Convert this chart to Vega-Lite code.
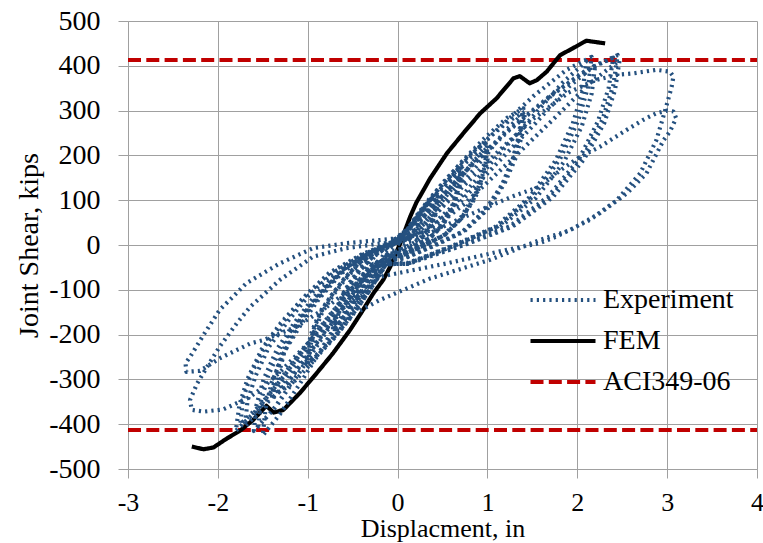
{
"$schema": "https://vega.github.io/schema/vega-lite/v6.json",
"width": 629, "height": 448,
"autosize": {"type": "none"},
"padding": {"left": 128, "top": 21, "right": 6, "bottom": 74},
"background": "white",
"config": {"view": {"stroke": null}, "font": "Liberation Serif"},
"data": {"values": [
{"s":"ACI349-06","g":1,"x":-3,"y":413},{"s":"ACI349-06","g":1,"x":4,"y":413},
{"s":"ACI349-06","g":2,"x":-3,"y":-413},{"s":"ACI349-06","g":2,"x":4,"y":-413},
{"s":"FEM","g":1,"x":-2.29,"y":-450},{"s":"FEM","g":1,"x":-2.16,"y":-456},{"s":"FEM","g":1,"x":-2.05,"y":-452},{"s":"FEM","g":1,"x":-1.9,"y":-432},{"s":"FEM","g":1,"x":-1.75,"y":-414},{"s":"FEM","g":1,"x":-1.61,"y":-391},{"s":"FEM","g":1,"x":-1.46,"y":-359},{"s":"FEM","g":1,"x":-1.38,"y":-374},{"s":"FEM","g":1,"x":-1.27,"y":-368},{"s":"FEM","g":1,"x":-1.09,"y":-331},{"s":"FEM","g":1,"x":-0.9,"y":-286},{"s":"FEM","g":1,"x":-0.72,"y":-242},{"s":"FEM","g":1,"x":-0.53,"y":-190},{"s":"FEM","g":1,"x":-0.4,"y":-150},{"s":"FEM","g":1,"x":-0.27,"y":-108},{"s":"FEM","g":1,"x":-0.16,"y":-78},{"s":"FEM","g":1,"x":-0.08,"y":-48},{"s":"FEM","g":1,"x":0.03,"y":4},{"s":"FEM","g":1,"x":0.14,"y":63},{"s":"FEM","g":1,"x":0.21,"y":95},{"s":"FEM","g":1,"x":0.29,"y":123},{"s":"FEM","g":1,"x":0.36,"y":148},{"s":"FEM","g":1,"x":0.55,"y":205},{"s":"FEM","g":1,"x":0.73,"y":249},{"s":"FEM","g":1,"x":0.92,"y":294},{"s":"FEM","g":1,"x":1.1,"y":327},{"s":"FEM","g":1,"x":1.29,"y":372},{"s":"FEM","g":1,"x":1.36,"y":377},{"s":"FEM","g":1,"x":1.47,"y":361},{"s":"FEM","g":1,"x":1.55,"y":368},{"s":"FEM","g":1,"x":1.66,"y":387},{"s":"FEM","g":1,"x":1.81,"y":424},{"s":"FEM","g":1,"x":1.95,"y":439},{"s":"FEM","g":1,"x":2.1,"y":456},{"s":"FEM","g":1,"x":2.31,"y":450},
{"s":"Experiment","g":1,"x":0,"y":0},{"s":"Experiment","g":1,"x":0.08,"y":22},{"s":"Experiment","g":1,"x":0.17,"y":47},{"s":"Experiment","g":1,"x":0.25,"y":65},{"s":"Experiment","g":1,"x":0.23,"y":45},{"s":"Experiment","g":1,"x":0.15,"y":15},{"s":"Experiment","g":1,"x":0.03,"y":-8},{"s":"Experiment","g":1,"x":-0.08,"y":-25},{"s":"Experiment","g":1,"x":-0.17,"y":-54},{"s":"Experiment","g":1,"x":-0.25,"y":-75},{"s":"Experiment","g":1,"x":-0.23,"y":-52},{"s":"Experiment","g":1,"x":-0.15,"y":-18},{"s":"Experiment","g":1,"x":-0.03,"y":2},
{"s":"Experiment","g":1,"x":0.05,"y":17},{"s":"Experiment","g":1,"x":0.14,"y":44},{"s":"Experiment","g":1,"x":0.23,"y":69},{"s":"Experiment","g":1,"x":0.32,"y":91},{"s":"Experiment","g":1,"x":0.39,"y":107},{"s":"Experiment","g":1,"x":0.45,"y":115},{"s":"Experiment","g":1,"x":0.44,"y":97},{"s":"Experiment","g":1,"x":0.42,"y":76},{"s":"Experiment","g":1,"x":0.38,"y":53},{"s":"Experiment","g":1,"x":0.32,"y":30},{"s":"Experiment","g":1,"x":0.23,"y":12},{"s":"Experiment","g":1,"x":0.14,"y":0},{"s":"Experiment","g":1,"x":0.02,"y":-12},{"s":"Experiment","g":1,"x":-0.07,"y":-13},{"s":"Experiment","g":1,"x":-0.14,"y":-33},{"s":"Experiment","g":1,"x":-0.23,"y":-61},{"s":"Experiment","g":1,"x":-0.32,"y":-91},{"s":"Experiment","g":1,"x":-0.39,"y":-116},{"s":"Experiment","g":1,"x":-0.45,"y":-130},{"s":"Experiment","g":1,"x":-0.44,"y":-112},{"s":"Experiment","g":1,"x":-0.42,"y":-91},{"s":"Experiment","g":1,"x":-0.38,"y":-69},{"s":"Experiment","g":1,"x":-0.32,"y":-46},{"s":"Experiment","g":1,"x":-0.25,"y":-23},{"s":"Experiment","g":1,"x":-0.16,"y":-8},{"s":"Experiment","g":1,"x":-0.05,"y":3},
{"s":"Experiment","g":1,"x":0.07,"y":8},{"s":"Experiment","g":1,"x":0.14,"y":23},{"s":"Experiment","g":1,"x":0.23,"y":47},{"s":"Experiment","g":1,"x":0.32,"y":71},{"s":"Experiment","g":1,"x":0.39,"y":92},{"s":"Experiment","g":1,"x":0.45,"y":105},{"s":"Experiment","g":1,"x":0.44,"y":88},{"s":"Experiment","g":1,"x":0.42,"y":69},{"s":"Experiment","g":1,"x":0.38,"y":48},{"s":"Experiment","g":1,"x":0.32,"y":27},{"s":"Experiment","g":1,"x":0.23,"y":11},{"s":"Experiment","g":1,"x":0.14,"y":0},{"s":"Experiment","g":1,"x":0.02,"y":-11},{"s":"Experiment","g":1,"x":-0.05,"y":-18},{"s":"Experiment","g":1,"x":-0.14,"y":-46},{"s":"Experiment","g":1,"x":-0.23,"y":-72},{"s":"Experiment","g":1,"x":-0.32,"y":-95},{"s":"Experiment","g":1,"x":-0.39,"y":-112},{"s":"Experiment","g":1,"x":-0.45,"y":-120},{"s":"Experiment","g":1,"x":-0.44,"y":-103},{"s":"Experiment","g":1,"x":-0.42,"y":-84},{"s":"Experiment","g":1,"x":-0.38,"y":-64},{"s":"Experiment","g":1,"x":-0.32,"y":-42},{"s":"Experiment","g":1,"x":-0.25,"y":-22},{"s":"Experiment","g":1,"x":-0.16,"y":-7},{"s":"Experiment","g":1,"x":-0.05,"y":2},
{"s":"Experiment","g":1,"x":0.08,"y":26},{"s":"Experiment","g":1,"x":0.21,"y":65},{"s":"Experiment","g":1,"x":0.35,"y":102},{"s":"Experiment","g":1,"x":0.49,"y":134},{"s":"Experiment","g":1,"x":0.61,"y":158},{"s":"Experiment","g":1,"x":0.7,"y":170},{"s":"Experiment","g":1,"x":0.69,"y":143},{"s":"Experiment","g":1,"x":0.65,"y":112},{"s":"Experiment","g":1,"x":0.59,"y":78},{"s":"Experiment","g":1,"x":0.49,"y":44},{"s":"Experiment","g":1,"x":0.36,"y":17},{"s":"Experiment","g":1,"x":0.21,"y":0},{"s":"Experiment","g":1,"x":0.04,"y":-17},{"s":"Experiment","g":1,"x":-0.11,"y":-20},{"s":"Experiment","g":1,"x":-0.21,"y":-49},{"s":"Experiment","g":1,"x":-0.35,"y":-92},{"s":"Experiment","g":1,"x":-0.49,"y":-137},{"s":"Experiment","g":1,"x":-0.61,"y":-174},{"s":"Experiment","g":1,"x":-0.7,"y":-195},{"s":"Experiment","g":1,"x":-0.69,"y":-168},{"s":"Experiment","g":1,"x":-0.65,"y":-140},{"s":"Experiment","g":1,"x":-0.59,"y":-109},{"s":"Experiment","g":1,"x":-0.5,"y":-82},{"s":"Experiment","g":1,"x":-0.41,"y":-55},{"s":"Experiment","g":1,"x":-0.29,"y":-29},{"s":"Experiment","g":1,"x":-0.15,"y":-10},{"s":"Experiment","g":1,"x":-0.04,"y":2},
{"s":"Experiment","g":1,"x":0.09,"y":25},{"s":"Experiment","g":1,"x":0.22,"y":63},{"s":"Experiment","g":1,"x":0.36,"y":99},{"s":"Experiment","g":1,"x":0.5,"y":130},{"s":"Experiment","g":1,"x":0.63,"y":153},{"s":"Experiment","g":1,"x":0.72,"y":165},{"s":"Experiment","g":1,"x":0.71,"y":139},{"s":"Experiment","g":1,"x":0.67,"y":109},{"s":"Experiment","g":1,"x":0.6,"y":76},{"s":"Experiment","g":1,"x":0.5,"y":43},{"s":"Experiment","g":1,"x":0.37,"y":17},{"s":"Experiment","g":1,"x":0.22,"y":0},{"s":"Experiment","g":1,"x":0.04,"y":-17},{"s":"Experiment","g":1,"x":-0.11,"y":-19},{"s":"Experiment","g":1,"x":-0.22,"y":-48},{"s":"Experiment","g":1,"x":-0.36,"y":-89},{"s":"Experiment","g":1,"x":-0.5,"y":-133},{"s":"Experiment","g":1,"x":-0.63,"y":-169},{"s":"Experiment","g":1,"x":-0.72,"y":-190},{"s":"Experiment","g":1,"x":-0.71,"y":-163},{"s":"Experiment","g":1,"x":-0.67,"y":-137},{"s":"Experiment","g":1,"x":-0.6,"y":-106},{"s":"Experiment","g":1,"x":-0.52,"y":-80},{"s":"Experiment","g":1,"x":-0.42,"y":-53},{"s":"Experiment","g":1,"x":-0.3,"y":-29},{"s":"Experiment","g":1,"x":-0.16,"y":-10},{"s":"Experiment","g":1,"x":-0.04,"y":2},
{"s":"Experiment","g":1,"x":0.11,"y":13},{"s":"Experiment","g":1,"x":0.21,"y":35},{"s":"Experiment","g":1,"x":0.35,"y":72},{"s":"Experiment","g":1,"x":0.49,"y":109},{"s":"Experiment","g":1,"x":0.61,"y":141},{"s":"Experiment","g":1,"x":0.7,"y":160},{"s":"Experiment","g":1,"x":0.69,"y":134},{"s":"Experiment","g":1,"x":0.65,"y":106},{"s":"Experiment","g":1,"x":0.59,"y":74},{"s":"Experiment","g":1,"x":0.49,"y":42},{"s":"Experiment","g":1,"x":0.36,"y":16},{"s":"Experiment","g":1,"x":0.21,"y":0},{"s":"Experiment","g":1,"x":0.04,"y":-16},{"s":"Experiment","g":1,"x":-0.08,"y":-28},{"s":"Experiment","g":1,"x":-0.21,"y":-70},{"s":"Experiment","g":1,"x":-0.35,"y":-111},{"s":"Experiment","g":1,"x":-0.49,"y":-146},{"s":"Experiment","g":1,"x":-0.61,"y":-172},{"s":"Experiment","g":1,"x":-0.7,"y":-185},{"s":"Experiment","g":1,"x":-0.69,"y":-159},{"s":"Experiment","g":1,"x":-0.65,"y":-133},{"s":"Experiment","g":1,"x":-0.59,"y":-104},{"s":"Experiment","g":1,"x":-0.5,"y":-78},{"s":"Experiment","g":1,"x":-0.41,"y":-52},{"s":"Experiment","g":1,"x":-0.29,"y":-28},{"s":"Experiment","g":1,"x":-0.15,"y":-9},{"s":"Experiment","g":1,"x":-0.04,"y":2},
{"s":"Experiment","g":1,"x":0.12,"y":35},{"s":"Experiment","g":1,"x":0.3,"y":87},{"s":"Experiment","g":1,"x":0.5,"y":138},{"s":"Experiment","g":1,"x":0.7,"y":182},{"s":"Experiment","g":1,"x":0.87,"y":214},{"s":"Experiment","g":1,"x":1.0,"y":230},{"s":"Experiment","g":1,"x":0.98,"y":193},{"s":"Experiment","g":1,"x":0.93,"y":152},{"s":"Experiment","g":1,"x":0.84,"y":106},{"s":"Experiment","g":1,"x":0.7,"y":60},{"s":"Experiment","g":1,"x":0.52,"y":23},{"s":"Experiment","g":1,"x":0.3,"y":0},{"s":"Experiment","g":1,"x":0.05,"y":-23},{"s":"Experiment","g":1,"x":-0.15,"y":-27},{"s":"Experiment","g":1,"x":-0.3,"y":-68},{"s":"Experiment","g":1,"x":-0.5,"y":-127},{"s":"Experiment","g":1,"x":-0.7,"y":-189},{"s":"Experiment","g":1,"x":-0.87,"y":-240},{"s":"Experiment","g":1,"x":-1.0,"y":-270},{"s":"Experiment","g":1,"x":-0.98,"y":-232},{"s":"Experiment","g":1,"x":-0.93,"y":-194},{"s":"Experiment","g":1,"x":-0.84,"y":-151},{"s":"Experiment","g":1,"x":-0.72,"y":-113},{"s":"Experiment","g":1,"x":-0.58,"y":-76},{"s":"Experiment","g":1,"x":-0.42,"y":-41},{"s":"Experiment","g":1,"x":-0.22,"y":-14},{"s":"Experiment","g":1,"x":-0.05,"y":3},
{"s":"Experiment","g":1,"x":0.15,"y":18},{"s":"Experiment","g":1,"x":0.31,"y":50},{"s":"Experiment","g":1,"x":0.51,"y":101},{"s":"Experiment","g":1,"x":0.71,"y":153},{"s":"Experiment","g":1,"x":0.89,"y":198},{"s":"Experiment","g":1,"x":1.02,"y":225},{"s":"Experiment","g":1,"x":1.0,"y":189},{"s":"Experiment","g":1,"x":0.95,"y":149},{"s":"Experiment","g":1,"x":0.86,"y":104},{"s":"Experiment","g":1,"x":0.71,"y":59},{"s":"Experiment","g":1,"x":0.53,"y":23},{"s":"Experiment","g":1,"x":0.31,"y":0},{"s":"Experiment","g":1,"x":0.05,"y":-23},{"s":"Experiment","g":1,"x":-0.12,"y":-40},{"s":"Experiment","g":1,"x":-0.31,"y":-101},{"s":"Experiment","g":1,"x":-0.51,"y":-159},{"s":"Experiment","g":1,"x":-0.71,"y":-209},{"s":"Experiment","g":1,"x":-0.89,"y":-246},{"s":"Experiment","g":1,"x":-1.02,"y":-265},{"s":"Experiment","g":1,"x":-1.0,"y":-228},{"s":"Experiment","g":1,"x":-0.95,"y":-191},{"s":"Experiment","g":1,"x":-0.86,"y":-148},{"s":"Experiment","g":1,"x":-0.73,"y":-111},{"s":"Experiment","g":1,"x":-0.59,"y":-74},{"s":"Experiment","g":1,"x":-0.43,"y":-40},{"s":"Experiment","g":1,"x":-0.22,"y":-13},{"s":"Experiment","g":1,"x":-0.05,"y":3},
{"s":"Experiment","g":1,"x":0.15,"y":17},{"s":"Experiment","g":1,"x":0.3,"y":48},{"s":"Experiment","g":1,"x":0.5,"y":98},{"s":"Experiment","g":1,"x":0.7,"y":148},{"s":"Experiment","g":1,"x":0.87,"y":192},{"s":"Experiment","g":1,"x":1.0,"y":218},{"s":"Experiment","g":1,"x":0.98,"y":183},{"s":"Experiment","g":1,"x":0.93,"y":144},{"s":"Experiment","g":1,"x":0.84,"y":100},{"s":"Experiment","g":1,"x":0.7,"y":57},{"s":"Experiment","g":1,"x":0.52,"y":22},{"s":"Experiment","g":1,"x":0.3,"y":0},{"s":"Experiment","g":1,"x":0.05,"y":-22},{"s":"Experiment","g":1,"x":-0.12,"y":-39},{"s":"Experiment","g":1,"x":-0.3,"y":-98},{"s":"Experiment","g":1,"x":-0.5,"y":-155},{"s":"Experiment","g":1,"x":-0.7,"y":-204},{"s":"Experiment","g":1,"x":-0.87,"y":-240},{"s":"Experiment","g":1,"x":-1.0,"y":-258},{"s":"Experiment","g":1,"x":-0.98,"y":-222},{"s":"Experiment","g":1,"x":-0.93,"y":-186},{"s":"Experiment","g":1,"x":-0.84,"y":-144},{"s":"Experiment","g":1,"x":-0.72,"y":-108},{"s":"Experiment","g":1,"x":-0.58,"y":-72},{"s":"Experiment","g":1,"x":-0.42,"y":-39},{"s":"Experiment","g":1,"x":-0.22,"y":-13},{"s":"Experiment","g":1,"x":-0.05,"y":3},
{"s":"Experiment","g":1,"x":0.17,"y":46},{"s":"Experiment","g":1,"x":0.42,"y":116},{"s":"Experiment","g":1,"x":0.7,"y":183},{"s":"Experiment","g":1,"x":0.98,"y":241},{"s":"Experiment","g":1,"x":1.22,"y":284},{"s":"Experiment","g":1,"x":1.4,"y":305},{"s":"Experiment","g":1,"x":1.37,"y":256},{"s":"Experiment","g":1,"x":1.3,"y":201},{"s":"Experiment","g":1,"x":1.18,"y":140},{"s":"Experiment","g":1,"x":0.98,"y":79},{"s":"Experiment","g":1,"x":0.73,"y":31},{"s":"Experiment","g":1,"x":0.42,"y":0},{"s":"Experiment","g":1,"x":0.07,"y":-31},{"s":"Experiment","g":1,"x":-0.21,"y":-35},{"s":"Experiment","g":1,"x":-0.42,"y":-86},{"s":"Experiment","g":1,"x":-0.7,"y":-162},{"s":"Experiment","g":1,"x":-0.98,"y":-242},{"s":"Experiment","g":1,"x":-1.22,"y":-307},{"s":"Experiment","g":1,"x":-1.4,"y":-345},{"s":"Experiment","g":1,"x":-1.37,"y":-297},{"s":"Experiment","g":1,"x":-1.3,"y":-248},{"s":"Experiment","g":1,"x":-1.18,"y":-193},{"s":"Experiment","g":1,"x":-1.01,"y":-145},{"s":"Experiment","g":1,"x":-0.81,"y":-97},{"s":"Experiment","g":1,"x":-0.59,"y":-52},{"s":"Experiment","g":1,"x":-0.31,"y":-17},{"s":"Experiment","g":1,"x":-0.07,"y":3},
{"s":"Experiment","g":1,"x":0.21,"y":23},{"s":"Experiment","g":1,"x":0.41,"y":64},{"s":"Experiment","g":1,"x":0.69,"y":131},{"s":"Experiment","g":1,"x":0.97,"y":197},{"s":"Experiment","g":1,"x":1.2,"y":255},{"s":"Experiment","g":1,"x":1.38,"y":290},{"s":"Experiment","g":1,"x":1.35,"y":244},{"s":"Experiment","g":1,"x":1.28,"y":191},{"s":"Experiment","g":1,"x":1.16,"y":133},{"s":"Experiment","g":1,"x":0.97,"y":75},{"s":"Experiment","g":1,"x":0.72,"y":29},{"s":"Experiment","g":1,"x":0.41,"y":0},{"s":"Experiment","g":1,"x":0.07,"y":-29},{"s":"Experiment","g":1,"x":-0.16,"y":-50},{"s":"Experiment","g":1,"x":-0.41,"y":-126},{"s":"Experiment","g":1,"x":-0.68,"y":-199},{"s":"Experiment","g":1,"x":-0.95,"y":-262},{"s":"Experiment","g":1,"x":-1.17,"y":-309},{"s":"Experiment","g":1,"x":-1.35,"y":-332},{"s":"Experiment","g":1,"x":-1.32,"y":-286},{"s":"Experiment","g":1,"x":-1.26,"y":-239},{"s":"Experiment","g":1,"x":-1.13,"y":-186},{"s":"Experiment","g":1,"x":-0.97,"y":-139},{"s":"Experiment","g":1,"x":-0.78,"y":-93},{"s":"Experiment","g":1,"x":-0.57,"y":-50},{"s":"Experiment","g":1,"x":-0.3,"y":-17},{"s":"Experiment","g":1,"x":-0.07,"y":3},
{"s":"Experiment","g":1,"x":0.17,"y":45},{"s":"Experiment","g":1,"x":0.43,"y":113},{"s":"Experiment","g":1,"x":0.71,"y":179},{"s":"Experiment","g":1,"x":0.99,"y":235},{"s":"Experiment","g":1,"x":1.24,"y":277},{"s":"Experiment","g":1,"x":1.42,"y":298},{"s":"Experiment","g":1,"x":1.39,"y":250},{"s":"Experiment","g":1,"x":1.32,"y":197},{"s":"Experiment","g":1,"x":1.19,"y":137},{"s":"Experiment","g":1,"x":0.99,"y":77},{"s":"Experiment","g":1,"x":0.74,"y":30},{"s":"Experiment","g":1,"x":0.43,"y":0},{"s":"Experiment","g":1,"x":0.07,"y":-30},{"s":"Experiment","g":1,"x":-0.21,"y":-34},{"s":"Experiment","g":1,"x":-0.41,"y":-85},{"s":"Experiment","g":1,"x":-0.69,"y":-159},{"s":"Experiment","g":1,"x":-0.97,"y":-237},{"s":"Experiment","g":1,"x":-1.2,"y":-301},{"s":"Experiment","g":1,"x":-1.38,"y":-338},{"s":"Experiment","g":1,"x":-1.35,"y":-291},{"s":"Experiment","g":1,"x":-1.28,"y":-243},{"s":"Experiment","g":1,"x":-1.16,"y":-189},{"s":"Experiment","g":1,"x":-0.99,"y":-142},{"s":"Experiment","g":1,"x":-0.8,"y":-95},{"s":"Experiment","g":1,"x":-0.58,"y":-51},{"s":"Experiment","g":1,"x":-0.3,"y":-17},{"s":"Experiment","g":1,"x":-0.07,"y":3},
{"s":"Experiment","g":1,"x":0.26,"y":63},{"s":"Experiment","g":1,"x":0.65,"y":160},{"s":"Experiment","g":1,"x":1.08,"y":252},{"s":"Experiment","g":1,"x":1.51,"y":332},{"s":"Experiment","g":1,"x":1.88,"y":391},{"s":"Experiment","g":1,"x":2.16,"y":420},{"s":"Experiment","g":1,"x":2.12,"y":353},{"s":"Experiment","g":1,"x":2.01,"y":277},{"s":"Experiment","g":1,"x":1.81,"y":193},{"s":"Experiment","g":1,"x":1.51,"y":109},{"s":"Experiment","g":1,"x":1.12,"y":42},{"s":"Experiment","g":1,"x":0.65,"y":0},{"s":"Experiment","g":1,"x":0.11,"y":-42},{"s":"Experiment","g":1,"x":-0.27,"y":-42},{"s":"Experiment","g":1,"x":-0.54,"y":-104},{"s":"Experiment","g":1,"x":-0.9,"y":-195},{"s":"Experiment","g":1,"x":-1.26,"y":-291},{"s":"Experiment","g":1,"x":-1.57,"y":-369},{"s":"Experiment","g":1,"x":-1.8,"y":-415},{"s":"Experiment","g":1,"x":-1.76,"y":-357},{"s":"Experiment","g":1,"x":-1.67,"y":-299},{"s":"Experiment","g":1,"x":-1.51,"y":-232},{"s":"Experiment","g":1,"x":-1.3,"y":-174},{"s":"Experiment","g":1,"x":-1.04,"y":-116},{"s":"Experiment","g":1,"x":-0.76,"y":-62},{"s":"Experiment","g":1,"x":-0.4,"y":-21},{"s":"Experiment","g":1,"x":-0.09,"y":4},
{"s":"Experiment","g":1,"x":0.32,"y":33},{"s":"Experiment","g":1,"x":0.63,"y":90},{"s":"Experiment","g":1,"x":1.05,"y":185},{"s":"Experiment","g":1,"x":1.47,"y":279},{"s":"Experiment","g":1,"x":1.83,"y":361},{"s":"Experiment","g":1,"x":2.1,"y":410},{"s":"Experiment","g":1,"x":2.06,"y":344},{"s":"Experiment","g":1,"x":1.95,"y":271},{"s":"Experiment","g":1,"x":1.76,"y":189},{"s":"Experiment","g":1,"x":1.47,"y":107},{"s":"Experiment","g":1,"x":1.09,"y":41},{"s":"Experiment","g":1,"x":0.63,"y":0},{"s":"Experiment","g":1,"x":0.11,"y":-41},{"s":"Experiment","g":1,"x":-0.26,"y":-41},{"s":"Experiment","g":1,"x":-0.51,"y":-101},{"s":"Experiment","g":1,"x":-0.85,"y":-190},{"s":"Experiment","g":1,"x":-1.19,"y":-284},{"s":"Experiment","g":1,"x":-1.48,"y":-360},{"s":"Experiment","g":1,"x":-1.7,"y":-405},{"s":"Experiment","g":1,"x":-1.67,"y":-348},{"s":"Experiment","g":1,"x":-1.58,"y":-292},{"s":"Experiment","g":1,"x":-1.43,"y":-227},{"s":"Experiment","g":1,"x":-1.22,"y":-170},{"s":"Experiment","g":1,"x":-0.99,"y":-113},{"s":"Experiment","g":1,"x":-0.71,"y":-61},{"s":"Experiment","g":1,"x":-0.37,"y":-20},{"s":"Experiment","g":1,"x":-0.09,"y":4},
{"s":"Experiment","g":1,"x":0.33,"y":32},{"s":"Experiment","g":1,"x":0.66,"y":88},{"s":"Experiment","g":1,"x":1.1,"y":181},{"s":"Experiment","g":1,"x":1.54,"y":273},{"s":"Experiment","g":1,"x":1.91,"y":354},{"s":"Experiment","g":1,"x":2.2,"y":402},{"s":"Experiment","g":1,"x":2.16,"y":338},{"s":"Experiment","g":1,"x":2.05,"y":265},{"s":"Experiment","g":1,"x":1.85,"y":185},{"s":"Experiment","g":1,"x":1.54,"y":105},{"s":"Experiment","g":1,"x":1.14,"y":40},{"s":"Experiment","g":1,"x":0.66,"y":0},{"s":"Experiment","g":1,"x":0.11,"y":-40},{"s":"Experiment","g":1,"x":-0.26,"y":-40},{"s":"Experiment","g":1,"x":-0.53,"y":-100},{"s":"Experiment","g":1,"x":-0.88,"y":-188},{"s":"Experiment","g":1,"x":-1.23,"y":-280},{"s":"Experiment","g":1,"x":-1.52,"y":-356},{"s":"Experiment","g":1,"x":-1.75,"y":-400},{"s":"Experiment","g":1,"x":-1.72,"y":-344},{"s":"Experiment","g":1,"x":-1.63,"y":-288},{"s":"Experiment","g":1,"x":-1.47,"y":-224},{"s":"Experiment","g":1,"x":-1.26,"y":-168},{"s":"Experiment","g":1,"x":-1.02,"y":-112},{"s":"Experiment","g":1,"x":-0.74,"y":-60},{"s":"Experiment","g":1,"x":-0.39,"y":-20},{"s":"Experiment","g":1,"x":-0.09,"y":4},
{"s":"Experiment","g":1,"x":0.29,"y":64},{"s":"Experiment","g":1,"x":0.74,"y":161},{"s":"Experiment","g":1,"x":1.23,"y":254},{"s":"Experiment","g":1,"x":1.72,"y":335},{"s":"Experiment","g":1,"x":2.13,"y":394},{"s":"Experiment","g":1,"x":2.45,"y":424},{"s":"Experiment","g":1,"x":2.4,"y":356},{"s":"Experiment","g":1,"x":2.28,"y":280},{"s":"Experiment","g":1,"x":2.06,"y":195},{"s":"Experiment","g":1,"x":1.72,"y":110},{"s":"Experiment","g":1,"x":1.27,"y":42},{"s":"Experiment","g":1,"x":0.74,"y":0},{"s":"Experiment","g":1,"x":0.12,"y":-42},{"s":"Experiment","g":1,"x":-0.23,"y":-43},{"s":"Experiment","g":1,"x":-0.45,"y":-106},{"s":"Experiment","g":1,"x":-0.75,"y":-200},{"s":"Experiment","g":1,"x":-1.05,"y":-298},{"s":"Experiment","g":1,"x":-1.31,"y":-378},{"s":"Experiment","g":1,"x":-1.5,"y":-425},{"s":"Experiment","g":1,"x":-1.47,"y":-366},{"s":"Experiment","g":1,"x":-1.4,"y":-306},{"s":"Experiment","g":1,"x":-1.26,"y":-238},{"s":"Experiment","g":1,"x":-1.08,"y":-179},{"s":"Experiment","g":1,"x":-0.87,"y":-119},{"s":"Experiment","g":1,"x":-0.63,"y":-64},{"s":"Experiment","g":1,"x":-0.33,"y":-21},{"s":"Experiment","g":1,"x":-0.08,"y":4},
{"s":"Experiment","g":1,"x":0.29,"y":63},{"s":"Experiment","g":1,"x":0.72,"y":159},{"s":"Experiment","g":1,"x":1.2,"y":251},{"s":"Experiment","g":1,"x":1.68,"y":330},{"s":"Experiment","g":1,"x":2.09,"y":389},{"s":"Experiment","g":1,"x":2.4,"y":418},{"s":"Experiment","g":1,"x":2.35,"y":351},{"s":"Experiment","g":1,"x":2.23,"y":276},{"s":"Experiment","g":1,"x":2.02,"y":192},{"s":"Experiment","g":1,"x":1.68,"y":109},{"s":"Experiment","g":1,"x":1.25,"y":42},{"s":"Experiment","g":1,"x":0.72,"y":0},{"s":"Experiment","g":1,"x":0.12,"y":-42},{"s":"Experiment","g":1,"x":-0.24,"y":-42},{"s":"Experiment","g":1,"x":-0.48,"y":-104},{"s":"Experiment","g":1,"x":-0.8,"y":-195},{"s":"Experiment","g":1,"x":-1.12,"y":-291},{"s":"Experiment","g":1,"x":-1.39,"y":-369},{"s":"Experiment","g":1,"x":-1.6,"y":-415},{"s":"Experiment","g":1,"x":-1.57,"y":-357},{"s":"Experiment","g":1,"x":-1.49,"y":-299},{"s":"Experiment","g":1,"x":-1.34,"y":-232},{"s":"Experiment","g":1,"x":-1.15,"y":-174},{"s":"Experiment","g":1,"x":-0.93,"y":-116},{"s":"Experiment","g":1,"x":-0.67,"y":-62},{"s":"Experiment","g":1,"x":-0.35,"y":-21},{"s":"Experiment","g":1,"x":-0.08,"y":4},
{"s":"Experiment","g":1,"x":0.37,"y":33},{"s":"Experiment","g":1,"x":0.74,"y":91},{"s":"Experiment","g":1,"x":1.24,"y":185},{"s":"Experiment","g":1,"x":1.73,"y":280},{"s":"Experiment","g":1,"x":2.15,"y":363},{"s":"Experiment","g":1,"x":2.47,"y":412},{"s":"Experiment","g":1,"x":2.42,"y":346},{"s":"Experiment","g":1,"x":2.3,"y":272},{"s":"Experiment","g":1,"x":2.07,"y":190},{"s":"Experiment","g":1,"x":1.73,"y":107},{"s":"Experiment","g":1,"x":1.28,"y":41},{"s":"Experiment","g":1,"x":0.74,"y":0},{"s":"Experiment","g":1,"x":0.12,"y":-41},{"s":"Experiment","g":1,"x":-0.23,"y":-41},{"s":"Experiment","g":1,"x":-0.47,"y":-101},{"s":"Experiment","g":1,"x":-0.78,"y":-190},{"s":"Experiment","g":1,"x":-1.09,"y":-284},{"s":"Experiment","g":1,"x":-1.35,"y":-360},{"s":"Experiment","g":1,"x":-1.55,"y":-405},{"s":"Experiment","g":1,"x":-1.52,"y":-348},{"s":"Experiment","g":1,"x":-1.44,"y":-292},{"s":"Experiment","g":1,"x":-1.3,"y":-227},{"s":"Experiment","g":1,"x":-1.12,"y":-170},{"s":"Experiment","g":1,"x":-0.9,"y":-113},{"s":"Experiment","g":1,"x":-0.65,"y":-61},{"s":"Experiment","g":1,"x":-0.34,"y":-20},{"s":"Experiment","g":1,"x":-0.08,"y":4},
{"s":"Experiment","g":1,"x":0.3,"y":45},{"s":"Experiment","g":1,"x":0.7,"y":125},{"s":"Experiment","g":1,"x":1.1,"y":205},{"s":"Experiment","g":1,"x":1.5,"y":280},{"s":"Experiment","g":1,"x":1.9,"y":340},{"s":"Experiment","g":1,"x":2.2,"y":368},{"s":"Experiment","g":1,"x":2.45,"y":380},{"s":"Experiment","g":1,"x":2.62,"y":383},{"s":"Experiment","g":1,"x":2.88,"y":391},{"s":"Experiment","g":1,"x":3.03,"y":387},{"s":"Experiment","g":1,"x":3.07,"y":376},{"s":"Experiment","g":1,"x":3.05,"y":353},{"s":"Experiment","g":1,"x":2.99,"y":309},{"s":"Experiment","g":1,"x":2.88,"y":234},{"s":"Experiment","g":1,"x":2.7,"y":160},{"s":"Experiment","g":1,"x":2.44,"y":100},{"s":"Experiment","g":1,"x":2.14,"y":56},{"s":"Experiment","g":1,"x":1.77,"y":19},{"s":"Experiment","g":1,"x":1.58,"y":4},{"s":"Experiment","g":1,"x":1.21,"y":-11},{"s":"Experiment","g":1,"x":0.55,"y":-41},{"s":"Experiment","g":1,"x":-0.2,"y":-71},{"s":"Experiment","g":1,"x":-0.6,"y":-140},{"s":"Experiment","g":1,"x":-1.0,"y":-220},{"s":"Experiment","g":1,"x":-1.3,"y":-282},{"s":"Experiment","g":1,"x":-1.5,"y":-318},{"s":"Experiment","g":1,"x":-1.64,"y":-339},{"s":"Experiment","g":1,"x":-1.79,"y":-353},{"s":"Experiment","g":1,"x":-1.94,"y":-367},{"s":"Experiment","g":1,"x":-2.16,"y":-372},{"s":"Experiment","g":1,"x":-2.29,"y":-368},{"s":"Experiment","g":1,"x":-2.31,"y":-346},{"s":"Experiment","g":1,"x":-2.23,"y":-309},{"s":"Experiment","g":1,"x":-2.12,"y":-272},{"s":"Experiment","g":1,"x":-1.98,"y":-227},{"s":"Experiment","g":1,"x":-1.79,"y":-175},{"s":"Experiment","g":1,"x":-1.64,"y":-138},{"s":"Experiment","g":1,"x":-1.31,"y":-78},{"s":"Experiment","g":1,"x":-0.94,"y":-26},{"s":"Experiment","g":1,"x":-0.57,"y":-7},{"s":"Experiment","g":1,"x":-0.2,"y":3},{"s":"Experiment","g":1,"x":0.2,"y":10},
{"s":"Experiment","g":1,"x":0.6,"y":50},{"s":"Experiment","g":1,"x":1.0,"y":85},{"s":"Experiment","g":1,"x":1.3,"y":110},{"s":"Experiment","g":1,"x":1.58,"y":130},{"s":"Experiment","g":1,"x":1.8,"y":165},{"s":"Experiment","g":1,"x":2.03,"y":197},{"s":"Experiment","g":1,"x":2.25,"y":219},{"s":"Experiment","g":1,"x":2.4,"y":238},{"s":"Experiment","g":1,"x":2.55,"y":257},{"s":"Experiment","g":1,"x":2.73,"y":279},{"s":"Experiment","g":1,"x":2.88,"y":294},{"s":"Experiment","g":1,"x":3.0,"y":300},{"s":"Experiment","g":1,"x":3.07,"y":298},{"s":"Experiment","g":1,"x":3.1,"y":283},{"s":"Experiment","g":1,"x":3.03,"y":253},{"s":"Experiment","g":1,"x":2.96,"y":234},{"s":"Experiment","g":1,"x":2.77,"y":160},{"s":"Experiment","g":1,"x":2.55,"y":115},{"s":"Experiment","g":1,"x":2.25,"y":71},{"s":"Experiment","g":1,"x":1.92,"y":33},{"s":"Experiment","g":1,"x":1.58,"y":11},{"s":"Experiment","g":1,"x":1.03,"y":-33},{"s":"Experiment","g":1,"x":0.36,"y":-75},{"s":"Experiment","g":1,"x":-0.2,"y":-123},{"s":"Experiment","g":1,"x":-0.45,"y":-150},
{"s":"Experiment","g":2,"x":0.3,"y":18},{"s":"Experiment","g":2,"x":0,"y":15},{"s":"Experiment","g":2,"x":-0.2,"y":11},{"s":"Experiment","g":2,"x":-0.57,"y":4},{"s":"Experiment","g":2,"x":-0.94,"y":-7},{"s":"Experiment","g":2,"x":-1.31,"y":-41},{"s":"Experiment","g":2,"x":-1.68,"y":-85},{"s":"Experiment","g":2,"x":-1.98,"y":-145},{"s":"Experiment","g":2,"x":-2.16,"y":-201},{"s":"Experiment","g":2,"x":-2.31,"y":-250},{"s":"Experiment","g":2,"x":-2.36,"y":-264},{"s":"Experiment","g":2,"x":-2.35,"y":-283},{"s":"Experiment","g":2,"x":-2.2,"y":-281},{"s":"Experiment","g":2,"x":-1.98,"y":-253},{"s":"Experiment","g":2,"x":-1.64,"y":-220},{"s":"Experiment","g":2,"x":-1.49,"y":-212},{"s":"Experiment","g":2,"x":-1.12,"y":-182},{"s":"Experiment","g":2,"x":-0.8,"y":-140},{"s":"Experiment","g":2,"x":-0.5,"y":-95},{"s":"Experiment","g":2,"x":-0.2,"y":-45},{"s":"Experiment","g":2,"x":0,"y":-15}
]},
"mark": {"type": "line", "strokeCap": "butt", "strokeJoin": "round", "strokeWidth": 4.2, "clip": true},
"encoding": {
 "x": {"field": "x", "type": "quantitative",
   "scale": {"domain": [-3, 4], "nice": false, "zero": false},
   "axis": {"values": [-3,-2,-1,0,1,2,3,4], "title": "Displacment, in", "grid": true, "gridColor": "#a0a0a0", "gridWidth": 1,
     "domainColor": "#a0a0a0", "tickColor": "#a0a0a0", "tickSize": 9, "labelFont": "Liberation Serif", "labelFontSize": 26,
     "labelColor": "black", "labelPadding": 11, "labelExpr": "'' + datum.value", "labelFlush": false, "labelOverlap": false,
     "titleFont": "Liberation Serif", "titleFontSize": 26, "titleFontWeight": "normal", "titleColor": "black",
     "titleBaseline": "alphabetic", "titleY": 67}},
 "y": {"field": "y", "type": "quantitative",
   "scale": {"domain": [-500, 500], "nice": false, "zero": false},
   "axis": {"values": [-500,-400,-300,-200,-100,0,100,200,300,400,500], "title": "Joint Shear, kips", "grid": true, "gridColor": "#a0a0a0", "gridWidth": 1,
     "domainColor": "#a0a0a0", "tickColor": "#a0a0a0", "tickSize": 10, "labelFont": "Liberation Serif", "labelFontSize": 28,
     "labelColor": "black", "labelPadding": 18, "labelExpr": "'' + datum.value", "labelFlush": false, "labelOverlap": false,
     "titleFont": "Liberation Serif", "titleFontSize": 28, "titleFontWeight": "normal", "titleColor": "black",
     "titleBaseline": "alphabetic", "titleAngle": -90, "titleX": -91, "titleY": 224, "titleAlign": "center"}},
 "color": {"field": "s", "type": "nominal",
   "scale": {"domain": ["Experiment", "FEM", "ACI349-06"], "range": ["#24507f", "#000000", "#c00000"]},
   "legend": {"title": null, "orient": "none", "legendX": 421, "legendY": 265, "padding": 0, "symbolType": "M-3.25,0H3.25", "symbolSize": 400, "symbolStrokeWidth": 4.2, "labelFont": "Liberation Serif", "labelFontSize": 28, "labelColor": "black", "labelOffset": 26, "rowPadding": 13, "labelLimit": 300}},
 "strokeDash": {"field": "s", "type": "nominal",
   "scale": {"domain": ["Experiment", "FEM", "ACI349-06"], "range": [[2.2, 4.1], [1, 0], [13, 5.3]]},
   "legend": {"title": null, "orient": "none", "legendX": 421, "legendY": 265, "padding": 0, "symbolType": "M-3.25,0H3.25", "symbolSize": 400, "symbolStrokeWidth": 4.2, "labelFont": "Liberation Serif", "labelFontSize": 28, "labelColor": "black", "labelOffset": 26, "rowPadding": 13, "labelLimit": 300}},
 "detail": {"field": "g"},
 "order": {"value": null}
}
}
